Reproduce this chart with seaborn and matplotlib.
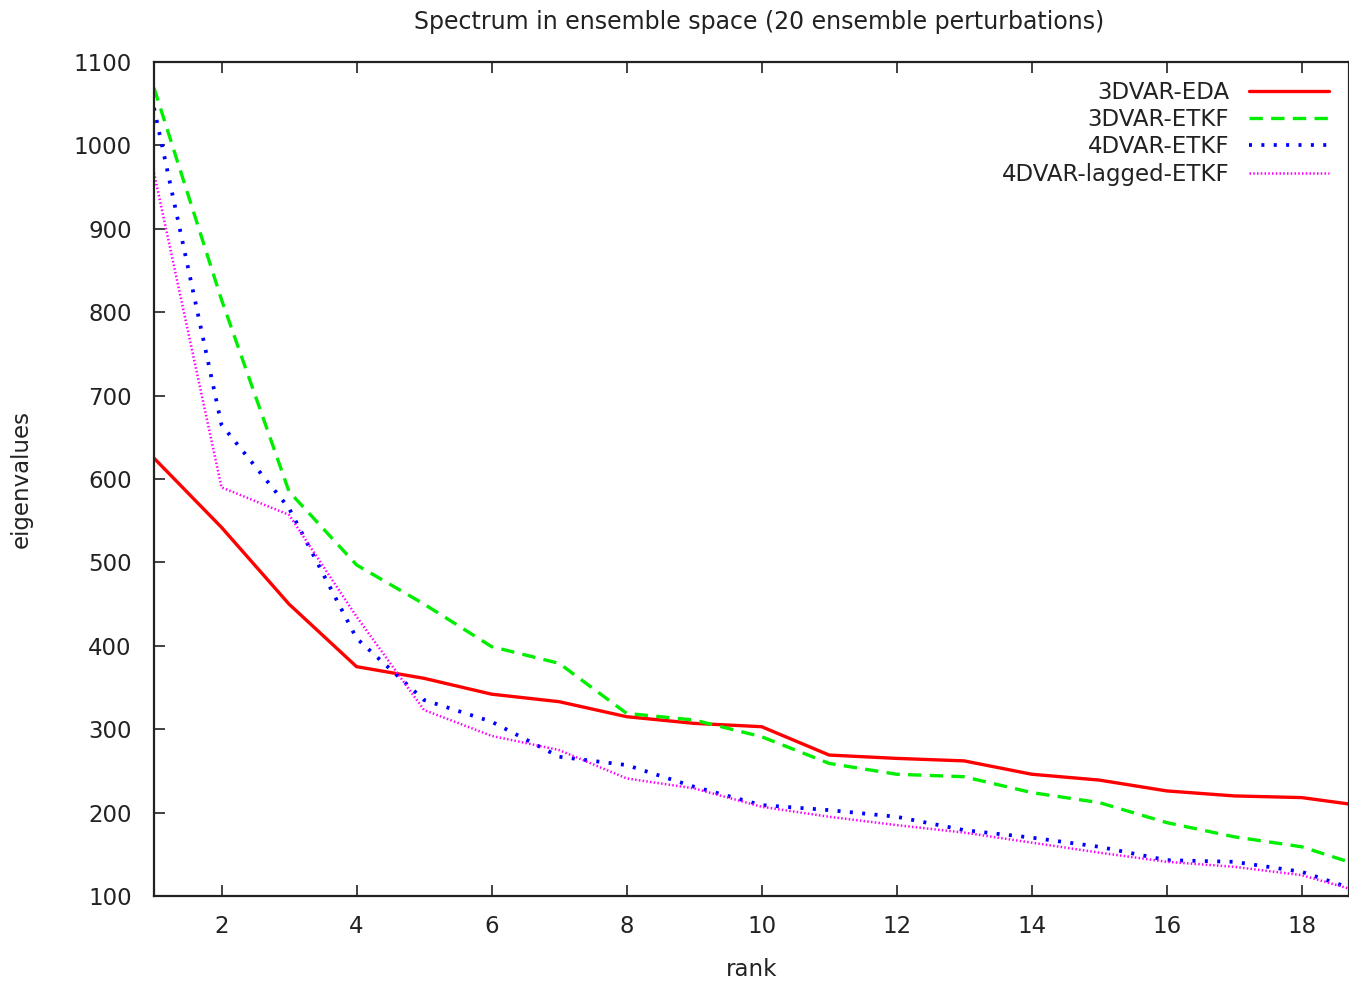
import matplotlib
matplotlib.use("Agg")
import matplotlib.pyplot as plt
import seaborn as sns
import pandas as pd

rank = list(range(1, 20))
eda_3dvar = [625, 542, 450, 375, 361, 342, 333, 315, 307, 303, 269, 265, 262, 246, 239, 226, 220, 218, 207]
etkf_3dvar = [1069, 815, 585, 497, 450, 399, 379, 319, 311, 291, 259, 246, 243, 224, 212, 188, 171, 159, 133]
etkf_4dvar = [1045, 665, 565, 409, 335, 309, 267, 257, 231, 209, 203, 195, 179, 170, 159, 143, 141, 129, 102]
lagged_4dvar = [967, 590, 557, 435, 323, 292, 275, 241, 229, 207, 195, 185, 176, 164, 152, 141, 135, 125, 102]

labels = ["3DVAR-EDA", "3DVAR-ETKF", "4DVAR-ETKF", "4DVAR-lagged-ETKF"]
series = [eda_3dvar, etkf_3dvar, etkf_4dvar, lagged_4dvar]

sns.set_theme(style="white")
plt.rcParams["font.family"] = ["DejaVu Sans"]

fig = plt.figure(figsize=(13.49, 9.82), dpi=100)
ax = fig.add_axes([154 / 1349, 86 / 982, (1349 - 154) / 1349, (896 - 62) / 982])

styles = [
    dict(color="#ff0000", lw=2.4, ls="-"),
    dict(color="#00ee00", lw=2.4, ls=(0, (4, 2.5))),
    dict(color="#0000ff", lw=2.7, ls=(0, (0.8, 2.5))),
    dict(color="#ff00ff", lw=1.8, ls=(0, (0.6, 0.9))),
]

for lab, vals, st in zip(labels, series, styles):
    df = pd.DataFrame({"rank": rank, "eig": vals})
    sns.lineplot(data=df, x="rank", y="eig", ax=ax, color=st["color"],
                 linewidth=st["lw"], linestyle=st["ls"], label=lab)

fs = 16.5
ax.set_xlim(1, 18.7)
ax.set_ylim(100, 1100)
ax.set_xticks(range(2, 19, 2))
ax.set_yticks(range(100, 1101, 100))
ax.tick_params(axis="both", direction="in", length=8, width=1.2, labelsize=fs,
               top=True, bottom=True, left=True, right=False, pad=16, colors="#222222")
ax.tick_params(axis="x", pad=14)
for s in ax.spines.values():
    s.set_color("#222222")
    s.set_linewidth(1.6)

ax.set_xlabel("rank", fontsize=fs, labelpad=14, color="#222222")
ax.set_ylabel("eigenvalues", fontsize=fs, labelpad=29, color="#222222")
ax.set_title("Spectrum in ensemble space (20 ensemble perturbations)", fontsize=17,
             pad=24, color="#222222", x=0.506)

leg = ax.legend(loc="upper right", bbox_to_anchor=(1338 / 1349, (982 - 72) / 982),
                bbox_transform=fig.transFigure, frameon=False, markerfirst=False,
                fontsize=fs, handlelength=3.5, handletextpad=0.85, labelspacing=0.18,
                borderaxespad=0)
for t in leg.get_texts():
    t.set_ha("right")
    t.set_color("#222222")
leg._legend_box.align = "right"

fig.savefig("out.png", dpi=100)
